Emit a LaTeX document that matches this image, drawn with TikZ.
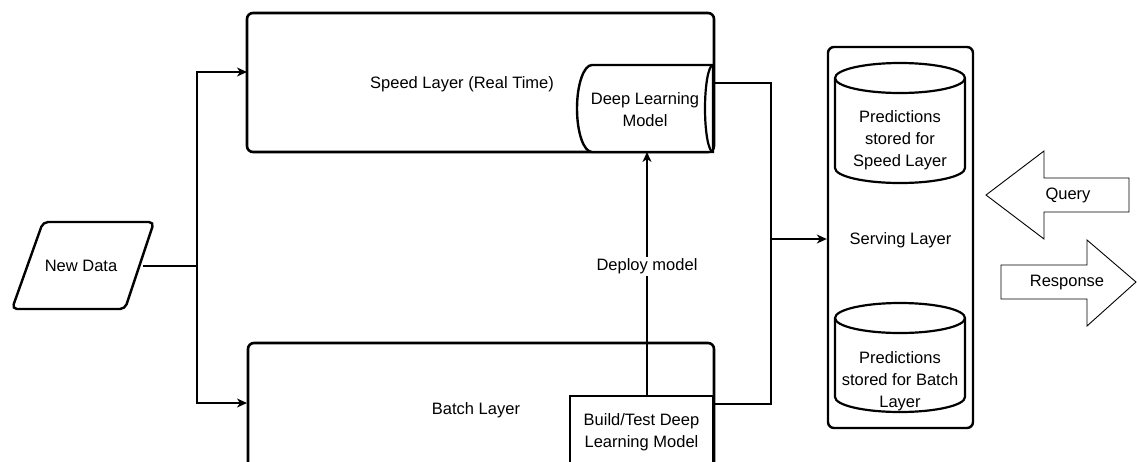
\documentclass[tikz,border=0pt]{standalone}
\usepackage{fontspec}
\setmainfont{Liberation Sans}
\usetikzlibrary{arrows.meta}
\begin{document}
\begin{tikzpicture}[x=1pt,y=-1pt,
  txt/.style={font=\fontsize{16.5}{22}\selectfont, align=center, inner sep=0pt},
  layerbox/.style={draw, line width=2.6pt, rounded corners=6pt, fill=white},
  modelbox/.style={draw, line width=2.4pt, fill=white},
  conn/.style={line width=1.3pt},
  arr/.style={line width=1.3pt, -{Stealth[length=10pt,width=9pt,inset=3pt]}},
  blockarrow/.style={draw, line width=0.9pt, fill=white},
  store/.style={draw, line width=2.2pt, fill=white}]
\useasboundingbox (0,0) rectangle (1137,461);
\clip (0,0) rectangle (1137,461);

% layers
\node[layerbox, minimum width=467pt, minimum height=139pt] (speed) at (480.5,82.5) {};
\node[txt] (speedlbl) at (462,84) {Speed Layer (Real Time)};
\node[layerbox, minimum width=466pt, minimum height=139pt] (batch) at (481,412.5) {};
\node[txt] (batchlbl) at (476,410) {Batch Layer};

% build/test model box
\node[modelbox, minimum width=143pt, minimum height=72pt] (build) at (641.5,432) {};
\node[txt] (buildlbl) at (641.5,432) {Build/Test Deep\\Learning Model};

% deep learning model (horizontal cylinder)
\filldraw[fill=white, line width=2.4pt]
  (713,65) -- (592,65)
  arc[start angle=270, end angle=90, x radius=15, y radius=43.5]
  -- (713,152) -- cycle;
\draw[line width=2.2pt] (713,65)
  arc[start angle=270, end angle=90, x radius=8, y radius=43.5];
\node[inner sep=0pt, minimum width=136pt, minimum height=87pt] (dlm) at (645,108.5) {};
\node[txt] (dlmlbl) at (645,110) {Deep Learning\\Model};

% new data input
\filldraw[fill=white, line width=2.4pt, rounded corners=5pt]
  (43,222) -- (154,222) -- (125,309) -- (12,309) -- cycle;
\node[txt] (nd) at (81,266) {New Data};

% serving layer
\node[layerbox, line width=2.4pt, minimum width=145pt, minimum height=381pt] (serving) at (900.5,237.5) {};
\node[txt] (servlbl) at (900.5,240) {Serving Layer};

% prediction stores
\filldraw[store] (835,78) -- (835,168)
  arc[start angle=180, end angle=0, x radius=65, y radius=15]
  -- (965,78)
  arc[start angle=0, end angle=-180, x radius=65, y radius=15] -- cycle;
\draw[store] (835,78) arc[start angle=180, end angle=0, x radius=65, y radius=15];
\node[txt] (store1) at (900,140) {Predictions\\stored for\\Speed Layer};

\filldraw[store] (835,318) -- (835,397)
  arc[start angle=180, end angle=0, x radius=65, y radius=15]
  -- (965,318)
  arc[start angle=0, end angle=-180, x radius=65, y radius=15] -- cycle;
\draw[store] (835,318) arc[start angle=180, end angle=0, x radius=65, y radius=15];
\node[txt] (store2) at (900,381) {Predictions\\stored for Batch\\Layer};

% query / response
\filldraw[blockarrow] (986,195) -- (1044,151) -- (1044,178) -- (1129,178)
  -- (1129,212) -- (1044,212) -- (1044,239) -- cycle;
\node[txt] (query) at (1068,195) {Query};
\filldraw[blockarrow] (1001,265) -- (1087,265) -- (1087,240) -- (1136,282)
  -- (1087,326) -- (1087,299) -- (1001,299) -- cycle;
\node[txt] (response) at (1067,283) {Response};

% connector points
\coordinate (ndout) at (143,266);
\coordinate (split) at (197,266);
\coordinate (speedin) at (247,72);
\coordinate (batchin) at (247,403);
\coordinate (dlmout) at (713,83);
\coordinate (batchout) at (713,404);
\coordinate (merge) at (771,239);
\coordinate (deployfrom) at (647,396);
\coordinate (deployto) at (647,152);

% connectors
\draw[conn] (ndout) -- (split);
\draw[arr] (split) |- (speedin);
\draw[arr] (split) |- (batchin);
\draw[conn] (dlmout) -| (merge);
\draw[conn] (batchout) -| (merge);
\draw[arr] (merge) -- (serving.west |- merge);
\draw[arr] (deployfrom) -- (deployto)
  node[pos=0.53, txt, fill=white, inner sep=2pt] (deploylbl) {Deploy model};
\end{tikzpicture}
\end{document}
